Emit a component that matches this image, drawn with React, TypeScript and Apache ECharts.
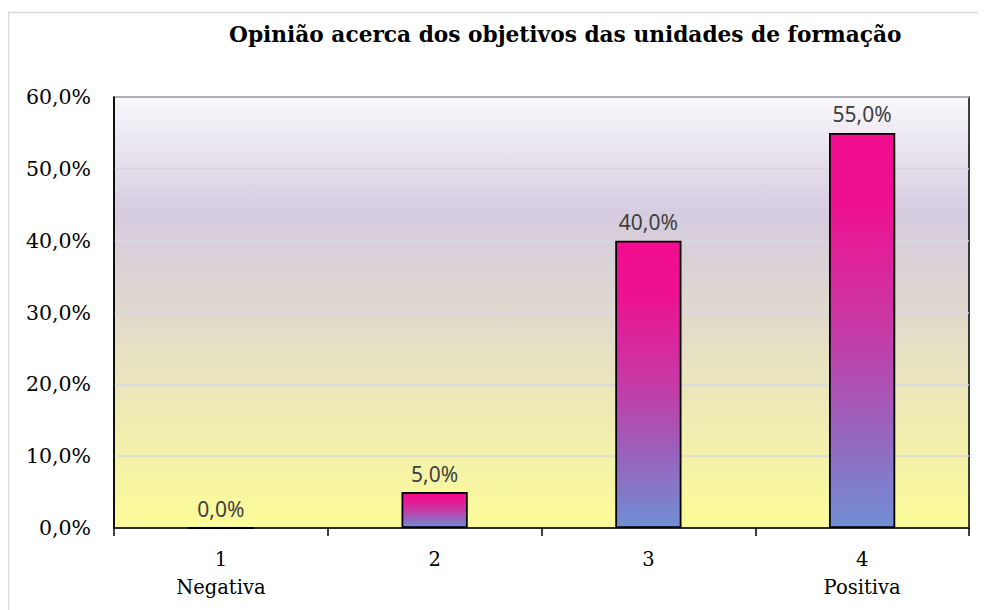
import React, { useEffect, useRef } from "react";
import * as echarts from "echarts";

const titleText = "Opinião acerca dos objetivos das unidades de formação";
const categories = ["1\nNegativa", "2", "3", "4\nPositiva"];
const values = [0, 5, 40, 55];
const yMin = 0;
const yMax = 60;
const yStep = 10;

const fmt = (v: number) => v.toFixed(1).replace(".", ",") + "%";

export default function App() {
  const ref = useRef<HTMLDivElement>(null);
  useEffect(() => {
    if (!ref.current) return;
    const chart = echarts.init(ref.current, null, { renderer: "svg" });
    chart.setOption({
      animation: false,
      backgroundColor: "#ffffff",
      graphic: [
        {
          type: "rect",
          shape: { x: 0.5, y: 4.5, width: 1200, height: 1200 },
          style: { fill: "none", stroke: "#d9d9d9", lineWidth: 1.5 },
          silent: true,
          z: -10,
        },
      ],
      title: {
        text: titleText,
        left: 216,
        top: 10,
        textStyle: {
          fontFamily: "DejaVu Serif",
          fontWeight: "bold",
          fontSize: 21.7,
          color: "#000000",
        },
      },
      grid: {
        left: 106,
        top: 89,
        right: 17,
        bottom: 82,
        show: true,
        borderColor: "#000000",
        borderWidth: 1.5,
        backgroundColor: new echarts.graphic.LinearGradient(0, 0, 0, 1, [
          { offset: 0, color: "#f9f8fb" },
          { offset: 0.27, color: "#d5cce0" },
          { offset: 0.47, color: "#dfd7d0" },
          { offset: 0.72, color: "#eeeab6" },
          { offset: 1, color: "#fcfc98" },
        ]),
      },
      xAxis: {
        type: "category",
        data: categories,
        axisLine: { show: true, lineStyle: { color: "#000000", width: 1.5 } },
        axisTick: { show: true, length: 8, lineStyle: { color: "#000000", width: 1.5 } },
        axisLabel: {
          fontFamily: "DejaVu Serif",
          fontSize: 19.5,
          color: "#000000",
          lineHeight: 28,
          margin: 17,
        },
        splitLine: { show: false },
      },
      yAxis: {
        type: "value",
        min: yMin,
        max: yMax,
        interval: yStep,
        axisLine: { show: true, lineStyle: { color: "#000000", width: 1.5 } },
        axisTick: { show: false },
        axisLabel: {
          fontFamily: "DejaVu Serif",
          fontSize: 20.5,
          color: "#000000",
          margin: 23,
          formatter: (v: number) => fmt(v),
        },
        splitLine: { show: true, lineStyle: { color: "#d8d6e2", width: 1.5 } },
      },
      series: [
        {
          type: "bar",
          data: values,
          barWidth: "31%",
          itemStyle: {
            borderColor: "#000000",
            borderWidth: 1.8,
            color: new echarts.graphic.LinearGradient(0, 0, 0, 1, [
              { offset: 0, color: "#f20c8f" },
              { offset: 0.18, color: "#ee1191" },
              { offset: 0.5, color: "#c63aa6" },
              { offset: 0.78, color: "#9468c0" },
              { offset: 1, color: "#708fd3" },
            ]),
          },
          label: {
            show: true,
            position: "top",
            distance: 8,
            fontFamily: "Noto Sans",
            fontSize: 21,
            color: "#404040",
            formatter: (p: any) => fmt(p.value),
          },
        },
      ],
    });
    return () => chart.dispose();
  }, []);
  return <div ref={ref} style={{ width: 978, height: 602 }} />;
}
